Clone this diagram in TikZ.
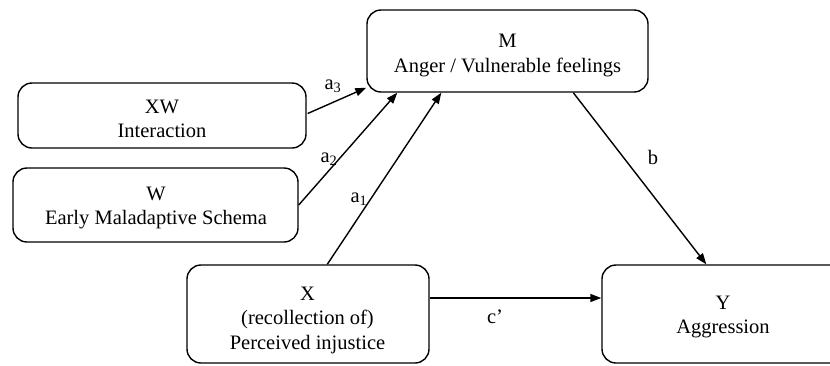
\documentclass[tikz,border=0pt]{standalone}
\usepackage{fontspec}
\setmainfont{Liberation Serif}
\usetikzlibrary{arrows.meta,calc}
\newcommand\boxlines[1]{\begin{tabular}[t]{@{}c@{}}#1\end{tabular}}
\begin{document}
\begin{tikzpicture}[x=1pt,y=-1pt,
  box/.style={draw,line width=1.4pt,rounded corners=14pt,inner sep=0pt},
  txt/.style={anchor=base,inner sep=0pt,font=\fontsize{20.5}{24.5}\selectfont},
  conn/.style={line width=1.4pt,-{Triangle[length=11pt,width=8pt]}},
  lab/.style={font=\fontsize{20.5}{24.5}\selectfont,inner sep=0pt}]
\useasboundingbox (0,0) rectangle (830,365);
\clip (0,0) rectangle (830,365);
\node[box,minimum width=281pt,minimum height=82pt] (m) at (507.5,51) {};
\node[box,minimum width=288pt,minimum height=65pt] (xw) at (162,115.5) {};
\node[box,minimum width=285pt,minimum height=74pt] (w) at (155.5,205) {};
\node[box,minimum width=242pt,minimum height=98pt] (x) at (308,314) {};
\node[box,minimum width=243pt,minimum height=98pt] (y) at (723.5,314) {};
\node[txt] (mt) at (507.5,47.5) {\boxlines{M\\Anger / Vulnerable feelings}};
\node[txt] (xwt) at (162,113) {\boxlines{XW\\Interaction}};
\node[txt] (wt) at (156,200) {\boxlines{W\\Early Maladaptive Schema}};
\node[txt] (xt) at (307.5,300) {\boxlines{X\\(recollection of)\\Perceived injustice}};
\node[txt] (yt) at (723,309) {\boxlines{Y\\Aggression}};
\draw[conn] ($(xw.east)+(1,-2)$) -- ($(m.south west)+(0,-5)$);
\draw[conn] (w.east) -- ($(m.south west)+(31,0)$);
\draw[conn] ($(x.north west)+(141,0)$) -- ($(m.south west)+(75,0)$);
\draw[conn] ($(m.south west)+(207,0)$) -- ($(y.north west)+(105,0)$);
\draw[conn] ($(x.east)+(0,-16)$) -- ($(y.west)+(0,-16)$);
\node[lab] (la3) at (333,86) {a\textsubscript{3}};
\node[lab] (la2) at (329,159) {a\textsubscript{2}};
\node[lab] (la1) at (359,199) {a\textsubscript{1}};
\node[lab] (lb) at (653,157) {b};
\node[lab] (lc) at (495,317) {c’};
\end{tikzpicture}
\end{document}
